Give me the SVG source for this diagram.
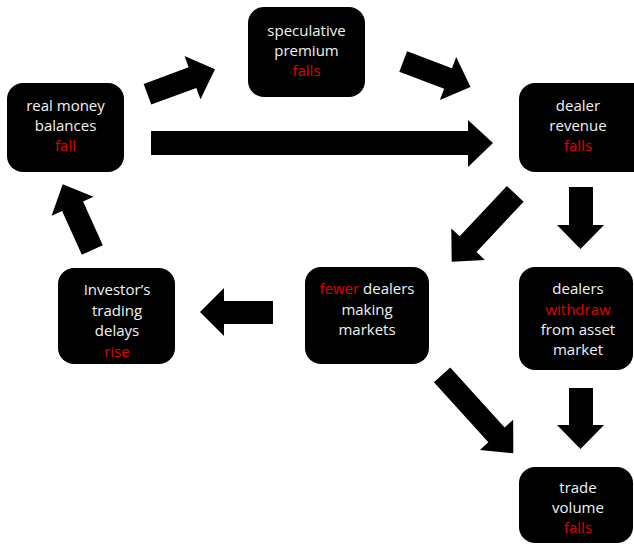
<svg xmlns="http://www.w3.org/2000/svg" width="634" height="544" viewBox="0 0 634 544">
<style>
.box{fill:#000;}
.t{font-family:"Open Sans","Liberation Sans",sans-serif;font-size:15px;fill:#f2f2f2;text-anchor:middle;}
.r{fill:#e00000;}
.arr{fill:#000;}
</style>
<rect width="634" height="544" fill="#fff"/>
<g id="connectors">
<polygon class="arr" transform="translate(215,69.3) rotate(-20.3)" points="-72,-11 -24,-11 -24,-23 0,0 -24,23 -24,11 -72,11"/>
<polygon class="arr" transform="translate(470.5,87) rotate(20.8)" points="-72,-11 -24,-11 -24,-23 0,0 -24,23 -24,11 -72,11"/>
<polygon class="arr" points="151,131 468,131 468,120 493,143 468,167 468,155 151,155"/>
<polygon class="arr" transform="translate(451.7,261.7) rotate(133.1)" points="-93,-11.5 -24,-11.5 -24,-23 0,0 -24,23 -24,11.5 -93,11.5"/>
<polygon class="arr" points="569,187 593,187 593,225 604,225 580.5,249 557,225 569,225"/>
<polygon class="arr" points="273,301 224,301 224,288 200,312 224,336 224,324 273,324"/>
<polygon class="arr" transform="translate(62.7,184.3) rotate(-114.3)" points="-72,-11.5 -24,-11.5 -24,-23 0,0 -24,23 -24,11.5 -72,11.5"/>
<polygon class="arr" transform="translate(513.3,453.3) rotate(47.8)" points="-106,-11 -25,-11 -25,-22.5 0,0 -25,22.5 -25,11 -106,11"/>
<polygon class="arr" points="569,388 593,388 593,425 604,425 580.5,449 557,425 569,425"/>
</g>
<g id="n1"><rect class="box" x="7" y="83" width="117" height="89" rx="16"/>
<text class="t" x="65.5" y="111">real money</text><text class="t" x="65.5" y="131">balances</text><text class="t r" x="65.5" y="151">fall</text></g>
<g id="n2"><rect class="box" x="248" y="7" width="117" height="90" rx="16"/>
<text class="t" x="306.5" y="36">speculative</text><text class="t" x="306.5" y="56">premium</text><text class="t r" x="306.5" y="76">falls</text></g>
<g id="n3"><rect class="box" x="519" y="83" width="130" height="89" rx="16"/>
<text class="t" x="578" y="111">dealer</text><text class="t" x="578" y="131">revenue</text><text class="t r" x="578" y="151">falls</text></g>
<g id="n4"><rect class="box" x="58" y="268" width="117" height="96" rx="16"/>
<text class="t" x="117" y="295">Investor’s</text><text class="t" x="117" y="315.5">trading</text><text class="t" x="117" y="336">delays</text><text class="t r" x="117" y="356.5">rise</text></g>
<g id="n5"><rect class="box" x="305" y="267" width="124" height="97" rx="16"/>
<text class="t" x="367" y="294"><tspan class="r">fewer</tspan> dealers</text><text class="t" x="367" y="315">making</text><text class="t" x="367" y="335">markets</text></g>
<g id="n6"><rect class="box" x="519" y="267" width="114" height="103" rx="16"/>
<text class="t" x="578" y="294">dealers</text><text class="t r" x="578" y="315">withdraw</text><text class="t" x="578" y="335">from asset</text><text class="t" x="578" y="355">market</text></g>
<g id="n7"><rect class="box" x="519" y="467" width="114" height="76" rx="16"/>
<text class="t" x="578" y="493">trade</text><text class="t" x="578" y="513">volume</text><text class="t r" x="578" y="533">falls</text></g>
</svg>
